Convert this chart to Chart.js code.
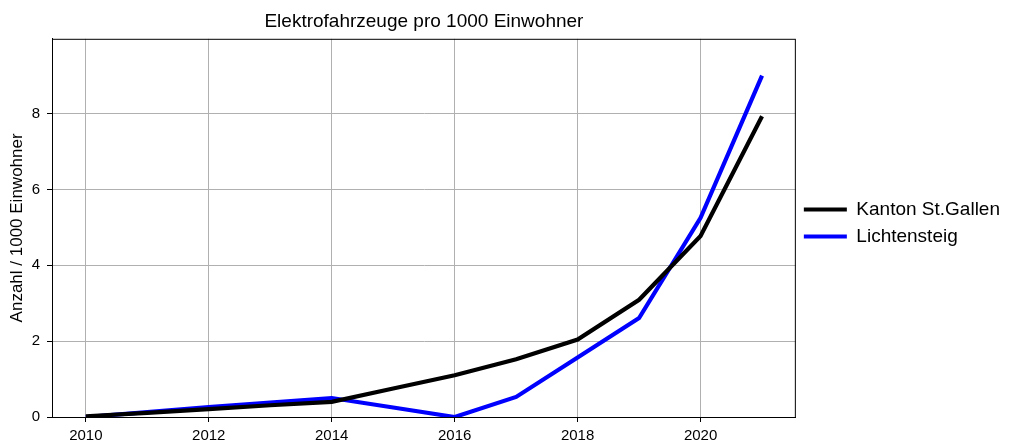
<!DOCTYPE html>
<html>
<head>
<meta charset="utf-8">
<script src="https://cdn.jsdelivr.net/npm/chart.js@4.4.0/dist/chart.umd.min.js"></script>
<style>
  html,body{margin:0;padding:0;background:#fff;}
  #wrap{width:1014px;height:446px;position:relative;}
</style>
</head>
<body>
<div id="wrap"><canvas id="evChart"></canvas></div>
<script>
/* ── DATA ───────────────────────────────────────────── */
const years      = [2010,2011,2012,2013,2014,2015,2016,2017,2018,2019,2020,2021];
const stGallen   = [0.02,0.11,0.21,0.31,0.40,0.75,1.10,1.52,2.04,3.09,4.77,7.93];
const lichtenst  = [0.00,0.13,0.26,0.38,0.50,0.25,0.00,0.53,1.57,2.61,5.25,9.00];
const xTicks     = [2010,2012,2014,2016,2018,2020];
const yTicks     = [0,2,4,6,8];

const FONT = '"Liberation Sans", Arial, Helvetica, sans-serif';

/* box around the plot, like the axes frame */
const frame = {
  id:'frame',
  afterDraw(c){
    const a = c.chartArea, g = c.ctx;
    g.save();
    g.strokeStyle = '#000'; g.lineWidth = 1;
    g.strokeRect(a.left+0.5, a.top+0.5, a.right-a.left-1, a.bottom-a.top);
    g.restore();
  }
};

const toPts = ys => years.map((x,i)=>({x, y:ys[i]}));

new Chart(document.getElementById('evChart'), {
  type:'line',
  data:{
    datasets:[
      { label:'Kanton St.Gallen', data:toPts(stGallen),  borderColor:'#000000', backgroundColor:'#000000', borderWidth:4.2, pointRadius:0, tension:0 },
      { label:'Lichtensteig',     data:toPts(lichtenst), borderColor:'#0000ff', backgroundColor:'#0000ff', borderWidth:4.2, pointRadius:0, tension:0 },
    ]
  },
  options:{
    responsive:true, maintainAspectRatio:false, animation:false,
    layout:{ padding:{ left:4, right:4, top:0, bottom:0 } },
    plugins:{
      title:{ display:true, fullSize:false, text:'Elektrofahrzeuge pro 1000 Einwohner', color:'#000',
              font:{ family:FONT, size:19, weight:'normal' }, padding:{ top:10, bottom:6 } },
      legend:{ position:'right',
               labels:{ color:'#000', font:{ family:FONT, size:19 }, boxWidth:43, boxHeight:4, padding:8,
                        generateLabels:ch=>ch.data.datasets.map((d,i)=>({
                          text:d.label, fillStyle:d.borderColor, strokeStyle:d.borderColor,
                          lineWidth:0, hidden:false, datasetIndex:i, fontColor:'#000' })) } },
      tooltip:{ enabled:false }
    },
    scales:{
      x:{ type:'linear', min:2009.45, max:2021.55,
          afterBuildTicks:s=>{ s.ticks = xTicks.map(v=>({value:v})); },
          afterFit:s=>{ s.height = 29; },
          grid:{ color:'#b0b0b0', lineWidth:1, tickLength:5, tickColor:'#000' },
          border:{ color:'#000', width:1 },
          ticks:{ color:'#000', font:{ family:FONT, size:15 }, padding:5, maxRotation:0,
                  callback:v=>String(v) } },
      y:{ type:'linear', min:0, max:9.97,
          afterBuildTicks:s=>{ s.ticks = yTicks.map(v=>({value:v})); },
          afterFit:s=>{ s.width = 48; },
          grid:{ color:'#b0b0b0', lineWidth:1, tickLength:5, tickColor:'#000' },
          border:{ color:'#000', width:1 },
          title:{ display:true, text:'Anzahl / 1000 Einwohner', color:'#000',
                  font:{ family:FONT, size:17 }, padding:{ top:3, bottom:4 } },
          ticks:{ color:'#000', font:{ family:FONT, size:15 }, padding:7 } }
    }
  },
  plugins:[frame]
});
</script>
</body>
</html>
